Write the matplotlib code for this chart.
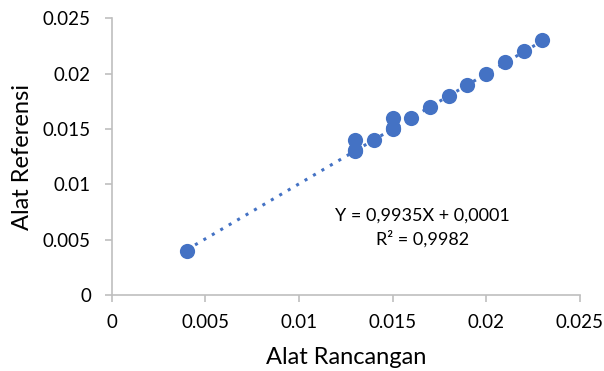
import numpy as np
import matplotlib
matplotlib.use("Agg")
import matplotlib.pyplot as plt

plt.rcParams['font.family'] = ['Lato', 'DejaVu Sans']

# data
alat_rancangan = [0.004, 0.013, 0.013, 0.013, 0.014, 0.015, 0.015, 0.015,
                  0.016, 0.017, 0.018, 0.019, 0.020, 0.021, 0.022, 0.023]
alat_referensi = [0.004, 0.013, 0.0131, 0.014, 0.014, 0.015, 0.0151, 0.016,
                  0.016, 0.017, 0.018, 0.019, 0.020, 0.021, 0.022, 0.023]
slope = 0.9935
intercept = 0.0001
eq_text = "Y = 0,9935X + 0,0001\nR² = 0,9982"
ticks = [0, 0.005, 0.01, 0.015, 0.02, 0.025]
tick_labels = ['0', '0.005', '0.01', '0.015', '0.02', '0.025']

blue = '#4472C4'
grey = '#BFBFBF'

fig = plt.figure(figsize=(6.04, 3.71), dpi=100)
ax = fig.add_axes([0.185, 0.205, 0.775, 0.746])

# trendline
xt = np.array([min(alat_rancangan), max(alat_rancangan)])
ax.plot(xt, slope * xt + intercept, linestyle=(0, (1, 2.2)), color=blue, linewidth=2.2, zorder=2)

ax.scatter(alat_rancangan, alat_referensi, s=120, color=blue, zorder=3, linewidths=0)

ax.text(0.01661, 0.0061, eq_text, ha='center', va='center', fontsize=13, linespacing=1.45)

ax.set_xlim(0, 0.025)
ax.set_ylim(0, 0.025)
ax.set_xticks(ticks)
ax.set_xticklabels(tick_labels)
ax.set_yticks(ticks)
ax.set_yticklabels(tick_labels)

for s in ['top', 'right']:
    ax.spines[s].set_visible(False)
for s in ['left', 'bottom']:
    ax.spines[s].set_color(grey)
    ax.spines[s].set_linewidth(1.2)
ax.tick_params(axis='both', colors=grey, labelcolor='black', labelsize=13.5, length=5, width=1.2)
ax.tick_params(axis='x', pad=9)
ax.tick_params(axis='y', pad=10)

ax.set_xlabel('Alat Rancangan', fontsize=17, labelpad=11)
ax.set_ylabel('Alat Referensi', fontsize=17, labelpad=7)

fig.savefig('out.png', dpi=100)
